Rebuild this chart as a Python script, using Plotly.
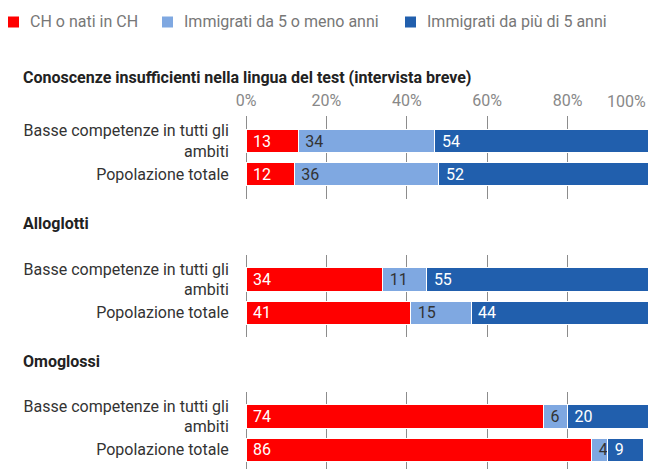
import plotly.graph_objects as go

# ---- data ----
group_titles = [
    "Conoscenze insufficienti nella lingua del test (intervista breve)",
    "Alloglotti",
    "Omoglossi",
]
row_labels = ["Basse competenze in tutti gli<br>ambiti", "Popolazione totale"]
series_names = ["CH o nati in CH", "Immigrati da 5 o meno anni", "Immigrati da più di 5 anni"]

ch_nati = [[13, 12], [34, 41], [74, 86]]
immigrati_recenti = [[34, 36], [11, 15], [6, 4]]
immigrati_lunghi = [[54, 52], [55, 44], [20, 9]]

x_tick_values = [0, 20, 40, 60, 80, 100]
x_tick_labels = ["0%", "20%", "40%", "60%", "80%", "100%"]

# ---- styling ----
W, H = 648, 469
LEFT = 246
FONT = "Roboto"
FS = 16
series_colors = ["#ff0000", "#7fa8e1", "#215fad"]
label_colors = ["#ffffff", "#333333", "#ffffff"]
GRID = "#8c8c8c"

UNIT = 33.3          # px between the two rows of a group
TOP_PAD = 25.0       # px from gridline top to first bar centre
BOT_PAD = 24.5       # px from second bar centre to gridline bottom
group_tops = [116.0, 254.5, 391.5]


def py(px):
    """pixel row -> paper y"""
    return 1 - px / H


def pxx(px):
    """pixel column -> paper x"""
    return (px - LEFT) / (W - LEFT)


fig = go.Figure()
series_values = [ch_nati, immigrati_recenti, immigrati_lunghi]

for g in range(3):
    yname = "y" if g == 0 else f"y{g + 1}"
    xname = "x" if g == 0 else f"x{g + 1}"
    for s in range(3):
        vals = series_values[s][g]
        fig.add_trace(go.Bar(
            name=series_names[s],
            y=row_labels,
            x=vals,
            orientation="h",
            xaxis=xname,
            yaxis=yname,
            marker=dict(color=series_colors[s], line=dict(color="white", width=1)),
            width=0.7,
            text=[str(v) for v in vals],
            texttemplate="\u00a0%{text}",
            textposition="inside",
            insidetextanchor="start",
            textangle=0,
            textfont=dict(family=FONT, size=FS, color=label_colors[s]),
            showlegend=False,
            hoverinfo="skip",
        ))

layout_axes = {}
for g in range(3):
    top = group_tops[g]
    bottom = min(top + TOP_PAD + UNIT + BOT_PAD, H)
    lo = -TOP_PAD / UNIT
    hi = 1 + (bottom - (top + TOP_PAD + UNIT)) / UNIT
    sfx = "" if g == 0 else str(g + 1)
    layout_axes[f"yaxis{sfx}"] = dict(
        domain=[py(bottom), py(top)],
        anchor=f"x{sfx}",
        type="category",
        range=[hi, lo],
        autorange=False,
        showgrid=False,
        zeroline=False,
        showline=False,
        ticks="outside",
        ticklen=13,
        tickcolor="rgba(0,0,0,0)",
        tickfont=dict(family=FONT, size=FS, color="#333333"),
        fixedrange=True,
    )
    layout_axes[f"xaxis{sfx}"] = dict(
        domain=[0, 1],
        anchor=f"y{sfx}",
        range=[0, 100],
        autorange=False,
        tickvals=x_tick_values[:-1],
        ticktext=x_tick_labels[:-1],
        showticklabels=(g == 0),
        side="top",
        ticks="outside" if g == 0 else "",
        ticklen=3,
        tickcolor="rgba(0,0,0,0)",
        tickfont=dict(family=FONT, size=FS, color="#888888"),
        showgrid=True,
        gridcolor=GRID,
        gridwidth=1,
        zeroline=True,
        zerolinecolor=GRID,
        zerolinewidth=1,
        showline=False,
        fixedrange=True,
    )

annotations = []
shapes = []

# last tick label is right-aligned so it stays inside the canvas
annotations.append(dict(
    x=x_tick_values[-1], xref="x", xanchor="right",
    y=py(101.5), yref="paper", yanchor="middle",
    text=x_tick_labels[-1], showarrow=False,
    font=dict(family=FONT, size=FS, color="#888888"),
))

# group headings
heading_rows = [77, 223, 361]
for title, row in zip(group_titles, heading_rows):
    annotations.append(dict(
        x=pxx(20.5), xref="paper", xanchor="left",
        y=py(row), yref="paper", yanchor="middle",
        text=f"<b>{title}</b>", showarrow=False,
        font=dict(family=FONT, size=FS, color="#222222"),
    ))

# legend row across the top
legend_left = [8, 162, 405]
SWATCH = 11
legend_mid = 22
for name, color, x0 in zip(series_names, series_colors, legend_left):
    shapes.append(dict(
        type="rect", xref="paper", yref="paper",
        x0=pxx(x0), x1=pxx(x0 + SWATCH),
        y0=py(legend_mid + SWATCH / 2), y1=py(legend_mid - SWATCH / 2),
        fillcolor=color, line=dict(width=0),
    ))
    annotations.append(dict(
        x=pxx(x0 + SWATCH + 9), xref="paper", xanchor="left",
        y=py(legend_mid - 0.5), yref="paper", yanchor="middle",
        text=name, showarrow=False,
        font=dict(family=FONT, size=FS, color="#777777"),
    ))

fig.update_layout(
    width=W, height=H,
    margin=dict(l=LEFT, r=0, t=0, b=0),
    paper_bgcolor="white",
    plot_bgcolor="white",
    barmode="stack",
    font=dict(family=FONT),
    uniformtext=dict(minsize=FS, mode="show"),
    showlegend=False,
    annotations=annotations,
    shapes=shapes,
    **layout_axes,
)

fig.write_html("out.html")
